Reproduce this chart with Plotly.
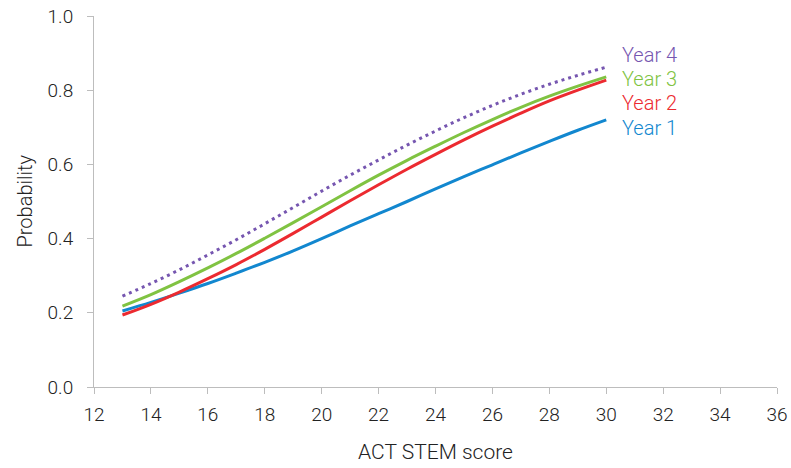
import plotly.graph_objects as go

# ACT STEM score grid
act_score = [13, 14, 15, 16, 17, 18, 19, 20, 21, 22, 23, 24, 25, 26, 27, 28, 29, 30]

# Predicted probability by year
year1 = [0.205, 0.228, 0.253, 0.279, 0.307, 0.336, 0.367, 0.400, 0.434, 0.467,
         0.500, 0.534, 0.567, 0.599, 0.631, 0.662, 0.692, 0.720]
year2 = [0.194, 0.223, 0.256, 0.292, 0.330, 0.371, 0.414, 0.458, 0.502, 0.545,
         0.587, 0.627, 0.666, 0.703, 0.738, 0.771, 0.800, 0.827]
year3 = [0.218, 0.249, 0.284, 0.321, 0.360, 0.401, 0.443, 0.486, 0.529, 0.571,
         0.611, 0.649, 0.686, 0.721, 0.754, 0.784, 0.811, 0.836]
year4 = [0.245, 0.279, 0.316, 0.356, 0.397, 0.440, 0.484, 0.528, 0.571, 0.612,
         0.652, 0.690, 0.726, 0.759, 0.789, 0.816, 0.840, 0.862]

series_names = ["Year 1", "Year 2", "Year 3", "Year 4"]
series_values = [year1, year2, year3, year4]
series_colors = ["#1287CF", "#EC2A30", "#80C342", "#7656B0"]
series_dash = ["solid", "solid", "solid", "3px,4px"]
label_y = [0.698, 0.766, 0.830, 0.895]

x_ticks = list(range(12, 37, 2))
y_ticks = [0.0, 0.2, 0.4, 0.6, 0.8, 1.0]

FONT = "Roboto, Liberation Sans, Arial, sans-serif"
WEIGHT = 300
TEXT = "#222222"

fig = go.Figure()
for name, vals, col, dash in zip(series_names, series_values, series_colors, series_dash):
    fig.add_trace(go.Scatter(
        x=act_score, y=vals, mode="lines", name=name,
        line=dict(color=col, width=3, dash=dash, shape="spline"),
        showlegend=False,
    ))

# Series labels placed just right of each line's end
for name, col, ly in zip(series_names, series_colors, label_y):
    fig.add_annotation(
        x=30.5, y=ly, xref="x", yref="y", text=name, showarrow=False,
        xanchor="left", yanchor="middle",
        font=dict(family=FONT, size=20, color=col, weight=WEIGHT),
    )

# Vertical axis title, positioned relative to the plot's left edge
fig.add_annotation(
    x=0, y=0.5, xref="paper", yref="paper", text="Probability",
    showarrow=False, textangle=-90, xanchor="center", yanchor="middle",
    xshift=-70, font=dict(family=FONT, size=20, color=TEXT, weight=WEIGHT),
)

axis_common = dict(
    showgrid=False, zeroline=False, showline=True, automargin=False,
    linecolor="#bdbdbd", linewidth=1,
    ticks="outside", ticklen=6, tickcolor="#bdbdbd", tickwidth=1,
    tickfont=dict(family=FONT, size=19, color=TEXT, weight=WEIGHT),
)

fig.update_layout(
    width=791, height=468,
    margin=dict(l=94, r=14, t=16, b=81),
    paper_bgcolor="white", plot_bgcolor="white",
    xaxis=dict(
        range=[12, 36], tickvals=x_ticks,
        ticktext=[str(v) for v in x_ticks],
        title=dict(text="ACT STEM score",
                   font=dict(family=FONT, size=21, color=TEXT, weight=WEIGHT), standoff=19),
        ticklabelstandoff=4,
        **axis_common,
    ),
    yaxis=dict(
        range=[0, 1.0], tickvals=y_ticks,
        ticktext=[f"{v:.1f}" for v in y_ticks],
        ticklabelstandoff=10,
        **axis_common,
    ),
)

fig.write_html("out.html")
